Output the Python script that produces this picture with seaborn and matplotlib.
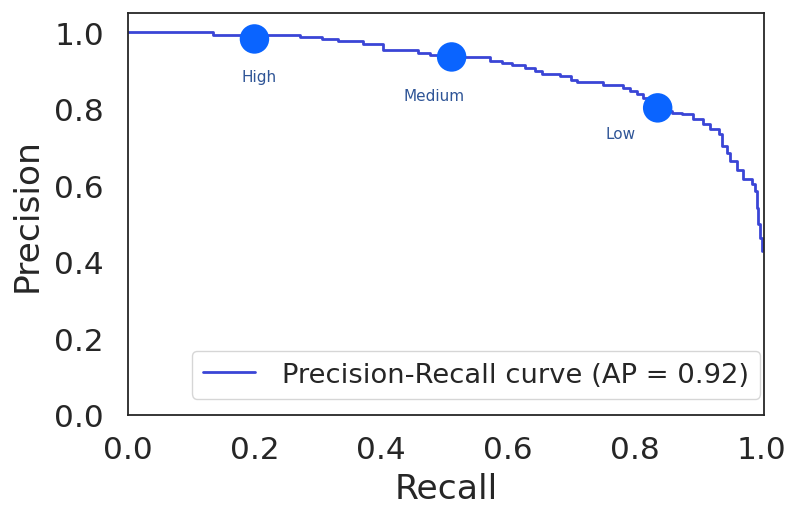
import matplotlib
matplotlib.use("Agg")
import matplotlib.pyplot as plt
import seaborn as sns
import pandas as pd

recall = [0.0, 0.1345, 0.272, 0.306, 0.332, 0.371, 0.403, 0.458, 0.477, 0.50,
          0.571, 0.590, 0.606, 0.627, 0.642, 0.653, 0.682, 0.700, 0.708, 0.750,
          0.782, 0.792, 0.803, 0.813, 0.824, 0.836, 0.845, 0.858, 0.874, 0.892,
          0.908, 0.918, 0.932, 0.937, 0.945, 0.950, 0.961, 0.971, 0.984, 0.989,
          0.993, 0.995, 0.997, 1.0]
precision = [1.0, 0.992, 0.988, 0.983, 0.977, 0.969, 0.953, 0.946, 0.940, 0.934,
             0.924, 0.918, 0.913, 0.907, 0.898, 0.891, 0.885, 0.876, 0.869, 0.861,
             0.855, 0.846, 0.838, 0.829, 0.817, 0.802, 0.795, 0.789, 0.785, 0.772,
             0.759, 0.746, 0.733, 0.702, 0.685, 0.663, 0.641, 0.615, 0.602, 0.585,
             0.541, 0.498, 0.463, 0.428]

point_labels = ["High", "Medium", "Low"]
point_recall = [0.20, 0.511, 0.836]
point_precision = [0.982, 0.935, 0.802]
label_recall = [0.207, 0.483, 0.778]
label_precision = [0.883, 0.833, 0.734]

sns.set_style("white")

fig = plt.figure(figsize=(7.9, 5.06), dpi=100)
ax = fig.add_axes([0.1616, 0.178, 0.8054, 0.7945])

df = pd.DataFrame({"Recall": recall, "Precision": precision})
sns.lineplot(data=df, x="Recall", y="Precision", ax=ax, color="#3a45d6",
             linewidth=2.0, drawstyle="steps-post", sort=False,
             label="Precision-Recall curve (AP = 0.92)")

pts = pd.DataFrame({"r": point_recall, "p": point_precision})
sns.scatterplot(data=pts, x="r", y="p", ax=ax, s=450, color="#0a64ff",
                edgecolor="none", zorder=5, legend=False)

for lab, xr, yp in zip(point_labels, label_recall, label_precision):
    ax.text(xr, yp, lab, color="#2f5597", fontsize=11, ha="center", va="center")

ax.set_xlim(0, 1.0036)
ax.set_ylim(0, 1.05)
ax.set_xticks([0.0, 0.2, 0.4, 0.6, 0.8, 1.0])
ax.set_yticks([0.0, 0.2, 0.4, 0.6, 0.8, 1.0])
ax.tick_params(axis="x", labelsize=22.4, colors="#262626", length=0, pad=14.5)
ax.tick_params(axis="y", labelsize=22.4, colors="#262626", length=0, pad=17)
ax.set_xlabel("Recall", fontsize=24.8, color="#262626", labelpad=6)
ax.set_ylabel("Precision", fontsize=24.8, color="#262626", labelpad=8)
for s in ax.spines.values():
    s.set_color("#262626")
    s.set_linewidth(1.3)

leg = ax.legend(loc="lower right", bbox_to_anchor=(0.994, 0.04), borderaxespad=0,
                fontsize=19.7, frameon=True, handlelength=1.9, handletextpad=1.0)
for t in leg.get_texts():
    t.set_color("#262626")

fig.savefig("out.png", dpi=100)
